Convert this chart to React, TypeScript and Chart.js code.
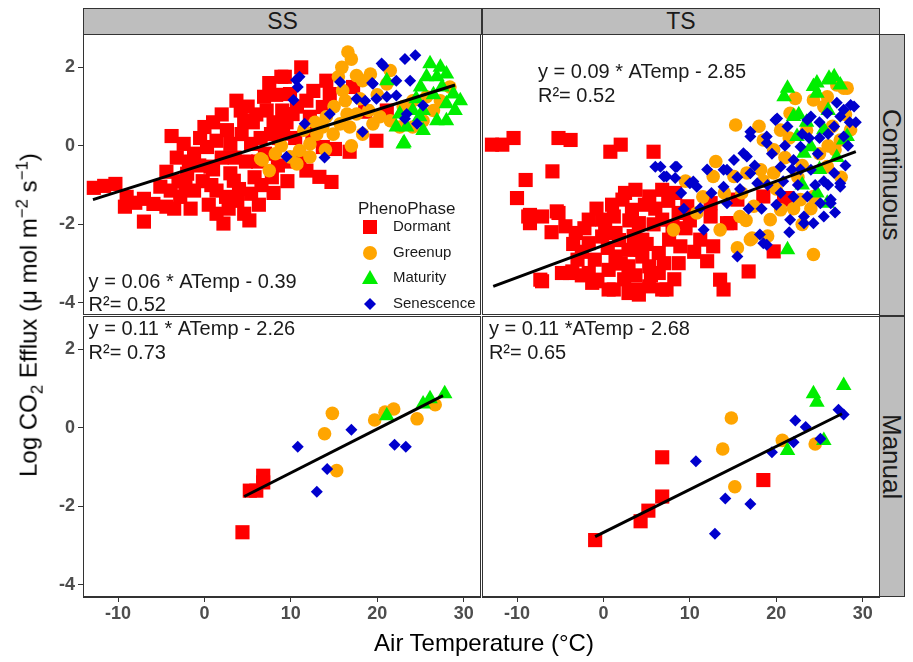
import React, { useEffect, useRef } from 'react';
import { Chart, registerables } from 'chart.js';

Chart.register(...registerables);

type P = [number, number];

const FONT = '"Liberation Sans", Arial, Helvetica, sans-serif';

// ---------- axes ----------
const xTicks = [-10, 0, 10, 20, 30];
const yTicks = [-4, -2, 0, 2];
const X_MIN = -14.05;
const X_MAX = 32.0;
const Y_MIN = -4.31;
const Y_MAX = 2.85;

// ---------- categories ----------
const phases = ['Dormant', 'Greenup', 'Maturity', 'Senescence'];
const phaseColors = ['#FF0000', '#FFA500', '#00EE00', '#0000CD'];
const sites = ['SS', 'TS'];
const methods = ['Continuous', 'Manual'];

// ---------- SS / Continuous ----------
const ssContDormant: P[] = [
  [-12.8, -1.07], [-11.6, -1.02], [-10.3, -0.97], [-9.2, -1.55], [-9.0, -1.3], [-8.0, -1.45], [-7.0, -1.93],
  [-7.0, -1.35], [-5.9, -1.48], [-5.1, -1.04], [-4.4, -0.66], [-4.4, -1.55], [-3.9, -1.14], [-3.8, 0.25],
  [-3.0, -0.9], [-2.4, 0.05], [-2.0, -0.71], [-1.6, -1.6], [-1.2, -0.2], [-1.2, -1.14], [-0.6, -0.5],
  [0.0, 0.48], [0.3, -0.03], [0.7, -0.53], [0.8, -1.0], [1.4, 0.13], [1.4, -1.14], [1.4, -1.73], [2.2, -1.98],
  [2.0, -0.3], [2.6, 0.4], [3.0, 0.05], [3.0, -0.7], [3.4, -0.89], [3.7, 1.15], [3.8, -1.4], [4.3, 0.3],
  [4.6, 0.64], [4.6, -1.73], [4.8, -0.4], [5.4, 0.05], [5.4, -1.22], [5.8, -0.8], [6.0, 0.8], [6.3, -1.5],
  [6.9, 1.25], [7.2, 0.9], [7.7, 0.3], [7.0, -0.2], [8.0, 0.6], [8.3, 1.3], [8.5, -0.5], [8.9, 1.76],
  [9.1, 0.31], [9.3, 1.76], [9.6, -0.9], [9.9, 1.32], [10.2, 0.81], [10.5, 0.2], [11.2, 2.0], [11.8, 1.15],
  [11.8, -0.63], [12.2, 0.74], [12.6, 1.4], [13.3, -0.79], [13.7, 0.99], [13.7, -0.03], [14.1, 1.66],
  [14.5, 1.32], [14.7, -0.92], [15.1, -0.08], [16.8, -0.15], [17.2, 1.5], [18.6, 0.87], [19.9, 0.13],
  [21.1, 0.9], [10.7, 1.0], [6.5, 0.2], [2.0, 0.8], [-0.5, 0.2], [1.0, -0.6], [-1.8, -0.4], [-3.2, -0.3],
  [5.0, 1.0], [11.0, -0.3], [12.5, 0.3], [7.5, 1.6], [9.0, 0.9], [4.0, -1.1], [-2.8, -1.3],
  [1.0, 0.6], [2.5, -1.3], [3.5, -0.3], [4.2, 0.9], [5.6, 0.6], [6.2, -0.4], [6.6, -1.0], [7.8, -0.8],
  [8.6, 0.2], [9.5, 0.6], [10.0, -0.4], [-0.2, -0.9], [0.5, -1.5], [2.8, -1.6], [-2.2, -1.0], [-3.5, -1.6],
  [5.2, -1.9], [8.0, -1.2],
];
const ssContGreenup: P[] = [
  [6.5, -0.33], [6.7, -0.36], [7.5, -0.63], [8.2, -0.2], [8.9, 0.0], [9.9, -0.28], [10.7, -0.46], [11.0, -0.12],
  [12.2, -0.28], [12.2, 0.05], [13.0, 0.3], [13.7, 0.48], [14.1, 0.74], [14.9, 0.3], [15.5, 1.76], [15.7, 0.56],
  [15.9, 2.0], [16.0, 1.41], [16.3, 1.15], [16.5, 0.81], [16.6, 2.39], [16.8, 0.48], [17.0, 2.21], [17.6, 1.79],
  [17.6, 0.81], [18.3, 1.66], [18.3, 0.3], [19.2, 1.83], [19.5, 0.56], [20.3, 0.74], [21.1, 1.58], [21.5, 1.92],
  [21.5, 0.64], [22.6, 0.48], [24.1, 1.15], [24.1, 0.48], [25.3, 0.64], [25.7, 1.25], [27.3, 1.15], [28.4, 1.5],
  [14.0, -0.1], [15.0, 1.0], [17.0, 0.0], [18.0, 1.2], [12.8, 0.6], [20.0, 1.3], [11.5, 0.4], [23.0, 1.0],
  [26.5, 0.9], [19.0, 0.9],
];
const ssContMaturity: P[] = [
  [21.1, 1.66], [22.2, 0.48], [22.6, 0.81], [23.0, 0.05], [23.1, 0.08], [23.4, 0.48], [24.1, 0.9], [24.9, 0.74],
  [25.3, 0.9], [25.3, 0.39], [25.7, 1.76], [26.1, 2.09], [26.9, 1.76], [26.9, 0.64], [27.3, 2.0], [28.0, 1.83],
  [28.0, 1.07], [28.0, 0.64], [28.8, 1.32], [29.6, 1.15], [26.5, 1.3], [27.5, 1.5], [24.5, 1.2], [29.0, 0.9],
  [25.0, 1.5],
];
const ssContSenescence: P[] = [
  [9.5, -0.28], [10.8, 1.5], [11.0, 1.76], [10.6, 1.68], [10.3, 1.17], [11.6, 0.56], [13.9, -0.3], [14.5, 0.81],
  [15.7, 1.63], [17.6, 1.2], [18.3, 0.36], [18.6, 1.15], [19.4, 1.6], [19.5, 1.58], [19.9, 1.2], [20.5, 2.1],
  [20.7, 2.04], [21.1, 1.25], [22.2, 1.66], [22.2, 1.28], [23.2, 2.21], [23.4, 0.81], [23.2, 0.69], [23.8, 1.66],
  [24.4, 2.31], [24.6, 0.56], [25.3, 1.03],
];
const ssContFit: P[] = [[-12.9, -1.37], [29.0, 1.55]];

// ---------- TS / Continuous ----------
const tsContDormant: P[] = [
  [-12.9, 0.03], [-11.7, 0.03], [-10.4, 0.2], [-5.2, 0.2], [-3.8, 0.15], [0.8, -0.15], [2.0, 0.03], [5.8, -0.15],
  [-9.0, -0.87], [-5.9, -0.65], [-10.0, -1.33], [-8.5, -1.76], [-7.1, -1.8], [-5.2, -1.71], [-8.5, -1.97],
  [-7.1, -3.45], [-4.8, -3.24], [-3.6, -3.2], [-1.7, -3.24], [-0.7, -3.45], [-4.4, -2.05], [-3.2, -2.22],
  [-1.7, -1.88], [-0.15, -1.88], [1.2, -1.8], [-1.7, -2.48], [-0.15, -2.31], [1.4, -2.22], [2.5, -1.2],
  [3.7, -1.12], [5.3, -1.29], [6.8, -1.12], [8.3, -1.2], [2.2, -1.37], [3.3, -1.63], [4.1, -1.97], [4.5, -2.39],
  [2.9, -2.65], [1.4, -2.82], [0.6, -3.16], [0.6, -3.66], [2.9, -3.75], [4.1, -3.79], [5.3, -3.58], [6.8, -3.66],
  [6.4, -3.24], [5.3, -3.07], [2.9, -3.07], [-1.3, -3.49], [4.5, -2.82], [6.4, -2.73], [7.6, -2.39], [8.0, -2.05],
  [6.8, -1.88], [8.7, -1.71], [8.7, -2.99], [18.5, -1.29], [20.9, -1.37], [19.7, -2.69], [16.8, -3.2],
  [13.5, -3.41], [13.9, -3.66], [12.0, -2.94], [12.7, -2.56], [14.3, -1.97], [15.5, -1.37], [12.4, -1.46],
  [9.7, -1.54], [12.4, -1.8], [14.7, -1.97], [21.3, -1.33], [11.2, -2.39], [-2.5, -2.7], [-3.0, -2.9],
  [-1.0, -2.9], [0.5, -2.6], [1.8, -2.4], [3.5, -2.3], [2.0, -3.0], [3.7, -3.3], [5.0, -2.5], [5.8, -2.0],
  [7.0, -2.99], [8.9, -2.56], [4.3, -2.65], [7.3, -3.66], [3.9, -3.66], [1.2, -3.66], [-0.8, -3.41],
  [-3.9, -3.24], [-5.4, -1.67], [-8.7, -1.8], [3.0, -1.9], [1.0, -1.5], [-0.8, -1.6], [0.2, -2.1], [6.0, -1.6],
  [7.5, -1.4], [4.8, -1.5], [9.5, -2.1], [10.5, -2.7], [10.0, -1.9], [-2.2, -2.1], [-3.5, -2.5], [-6.0, -2.2],
  [8.2, -3.4], [5.5, -3.3], [2.4, -3.4], [-2.5, -3.3], [-7.3, -3.41],
];
const tsContGreenup: P[] = [
  [15.3, 0.53], [28.2, 1.47], [27.0, 1.55], [25.9, 1.25], [24.3, 1.17], [22.2, 1.21], [21.6, 0.83], [28.6, 0.41],
  [27.4, 0.15], [18.5, 0.15], [19.7, -0.1], [12.7, -0.78], [15.1, -0.78], [16.6, -0.69], [18.2, -0.61],
  [19.7, -0.69], [25.9, -0.53], [24.3, -1.29], [22.8, -1.37], [20.5, -1.63], [17.4, -1.54], [19.3, -1.88],
  [15.8, -1.8], [13.5, -2.14], [17.0, -2.39], [24.3, -2.77], [17.2, -2.35], [15.5, -2.6], [8.1, -2.14],
  [10.8, -1.71], [27.8, 1.47], [23.5, 0.4], [26.0, 0.0], [21.0, -0.3], [14.0, -1.2], [16.0, -1.2], [11.5, -1.3],
  [20.0, -1.1], [22.5, -0.8], [25.0, -0.2], [28.0, 0.8], [23.0, -2.0], [19.0, -2.3], [26.5, 0.5], [13.0, -0.4],
  [9.5, -0.9], [18.0, 0.5], [21.5, 0.2], [23.0, -0.5], [26.8, -0.1], [27.5, -0.8], [24.0, -1.6], [20.5, 0.4],
  [18.5, -0.9], [16.5, -1.9], [22.0, -1.6], [25.5, 1.0],
];
const tsContMaturity: P[] = [
  [20.9, 1.25], [21.3, 1.47], [24.3, 1.51], [24.7, 1.6], [26.1, 1.68], [26.1, 1.72], [26.7, 1.76], [27.4, 1.55],
  [24.7, 1.34], [22.0, 0.75], [22.6, 0.79], [22.4, 0.24], [24.0, -0.02], [23.2, -0.19], [25.5, 0.41],
  [28.2, 0.24], [27.8, 0.15], [24.7, -1.2], [25.9, -1.46], [21.3, -2.65], [23.5, 0.6], [26.0, 0.9], [25.0, -0.6],
  [27.0, -0.3], [23.0, -1.0],
];
const tsContSenescence: P[] = [
  [6.0, -0.53], [7.0, -0.78], [8.3, -0.53], [8.3, -0.82], [6.6, -0.53], [7.3, -0.78], [8.5, -0.53], [10.0, -0.95],
  [10.4, -0.91], [10.8, -1.04], [11.2, -1.59], [11.6, -2.14], [13.9, -0.61], [13.9, -1.04], [14.3, -0.61],
  [14.3, -1.46], [15.1, -0.36], [15.5, -2.82], [16.2, -0.19], [16.6, -0.27], [17.0, 0.36], [17.0, 0.24],
  [17.8, -0.95], [18.1, -2.26], [18.5, -2.48], [18.9, 0.24], [18.9, 0.07], [18.9, -2.52], [19.9, 0.66],
  [20.1, 0.7], [20.5, -0.53], [20.5, -1.2], [21.3, 0.49], [21.6, -1.88], [22.0, -0.36], [22.8, -0.02],
  [23.2, -1.8], [23.2, -1.97], [23.6, 0.66], [23.6, -1.29], [24.0, 0.75], [24.0, -0.61], [24.3, -1.97],
  [25.1, -1.46], [25.9, 0.83], [26.3, -1.37], [26.3, -1.46], [26.7, 0.49], [26.7, -0.69], [27.4, 0.75],
  [27.4, -0.95], [27.4, -1.04], [27.8, 0.92], [27.8, 0.24], [28.6, 1.04], [29.0, 1.0], [21.0, 0.0], [22.5, -1.0],
  [25.0, 0.2], [19.5, -0.2], [24.8, -0.2], [26.0, -1.0], [20.0, -1.5], [12.5, -1.2], [9.0, -1.2], [15.8, -1.1],
  [28.5, 0.6], [23.0, 0.3], [25.5, -0.9], [17.5, -0.5], [21.8, -0.6], [12.0, -0.6], [9.3, -1.6], [16.8, -1.6],
  [20.8, -0.9], [22.0, -1.3], [24.5, -1.0], [25.5, -1.8], [26.8, -1.7], [28.0, -0.5], [28.3, 0.0], [29.2, 0.6],
  [27.0, 1.1], [25.0, 0.6], [22.8, -0.6], [19.0, -1.0], [17.0, -0.7], [15.5, -0.8], [18.3, -1.6], [21.5, -2.2],
  [26.0, 0.3], [23.8, 0.2],
];
const tsContFit: P[] = [[-12.75, -3.58], [29.2, -0.145]];

// ---------- SS / Manual ----------
const ssManDormant: P[] = [[4.4, -2.66], [5.25, -1.6], [6.0, -1.6], [6.8, -1.22], [6.8, -1.39]];
const ssManGreenup: P[] = [
  [14.8, 0.37], [13.9, -0.15], [15.3, -1.09], [19.7, 0.2], [20.9, 0.4], [21.9, 0.48], [24.6, 0.23], [26.7, 0.59],
];
const ssManMaturity: P[] = [[21.1, 0.31], [25.3, 0.61], [26.1, 0.74], [27.8, 0.87]];
const ssManSenescence: P[] = [[10.8, -0.48], [13.0, -1.63], [14.2, -1.05], [17.0, -0.05], [22.0, -0.43], [23.3, -0.48]];
const ssManFit: P[] = [[4.6, -1.75], [27.6, 0.82]];

// ---------- TS / Manual ----------
const tsManDormant: P[] = [[-0.96, -2.86], [4.3, -2.38], [5.2, -2.11], [6.8, -1.75], [6.8, -0.75], [18.5, -1.33]];
const tsManGreenup: P[] = [[14.8, 0.25], [13.8, -0.54], [15.2, -1.5], [20.7, -0.32], [24.5, -0.41]];
const tsManMaturity: P[] = [[24.3, 0.87], [24.7, 0.65], [27.8, 1.08], [21.3, -0.58], [25.5, -0.32]];
const tsManSenescence: P[] = [
  [10.7, -0.85], [12.9, -2.7], [14.1, -1.8], [17.0, -1.94], [19.5, -0.62], [22.0, -0.37], [22.2, 0.19],
  [23.4, 0.02], [25.1, -0.28], [27.2, 0.46], [27.8, 0.34],
];
const tsManFit: P[] = [[-0.96, -2.77], [27.6, 0.36]];

// ---------- equation labels ----------
const eqLabels = [
  ['y = 0.06 * ATemp - 0.39', 'R\u00B2= 0.52'],
  ['y = 0.09 * ATemp - 2.85', 'R\u00B2= 0.52'],
  ['y = 0.11 * ATemp - 2.26', 'R\u00B2= 0.73'],
  ['y = 0.11 *ATemp - 2.68', 'R\u00B2= 0.65'],
];
const eqX = [-13.4, -7.57, -13.4, -13.25];
const eqY: P[] = [[-3.49, -4.07], [1.88, 1.27], [2.51, 1.9], [2.51, 1.9]];

// ---------- layout ----------
const PANEL_W = 398;
const PANEL_H = 281;
const colLeft = [83, 482];
const rowTop = [34, 316];
const YW = 50;
const XH = 40;

type PanelCfg = {
  key: string;
  col: number;
  row: number;
  series: P[][];
  fit: P[];
  eq: number;
  legend: boolean;
};

const panels: PanelCfg[] = [
  { key: 'ssc', col: 0, row: 0, series: [ssContDormant, ssContGreenup, ssContMaturity, ssContSenescence], fit: ssContFit, eq: 0, legend: true },
  { key: 'tsc', col: 1, row: 0, series: [tsContDormant, tsContGreenup, tsContMaturity, tsContSenescence], fit: tsContFit, eq: 1, legend: false },
  { key: 'ssm', col: 0, row: 1, series: [ssManDormant, ssManGreenup, ssManMaturity, ssManSenescence], fit: ssManFit, eq: 2, legend: false },
  { key: 'tsm', col: 1, row: 1, series: [tsManDormant, tsManGreenup, tsManMaturity, tsManSenescence], fit: tsManFit, eq: 3, legend: false },
];

const pointStyles = ['rect', 'circle', 'triangle', 'rectRot'];
const pointRadii = [10, 6.8, 9, 6];

function drawMarker(ctx: CanvasRenderingContext2D, i: number, cx: number, cy: number) {
  ctx.fillStyle = phaseColors[i];
  ctx.beginPath();
  if (i === 0) {
    ctx.rect(cx - 7, cy - 7, 14, 14);
  } else if (i === 1) {
    ctx.arc(cx, cy, 7, 0, Math.PI * 2);
  } else if (i === 2) {
    ctx.moveTo(cx, cy - 8);
    ctx.lineTo(cx + 8, cy + 6);
    ctx.lineTo(cx - 8, cy + 6);
    ctx.closePath();
  } else {
    ctx.moveTo(cx, cy - 6);
    ctx.lineTo(cx + 6, cy);
    ctx.lineTo(cx, cy + 6);
    ctx.lineTo(cx - 6, cy);
    ctx.closePath();
  }
  ctx.fill();
}

function Panel({ cfg }: { cfg: PanelCfg }) {
  const ref = useRef<HTMLCanvasElement>(null);
  const showY = cfg.col === 0;
  const showX = cfg.row === 1;
  const padL = showY ? YW : 0;
  const padB = showX ? XH : 0;
  const width = PANEL_W + padL;
  const height = PANEL_H + padB;

  useEffect(() => {
    if (!ref.current) return;
    const overlay = {
      id: 'overlay_' + cfg.key,
      afterDraw(chart: any) {
        const { ctx, chartArea: a, scales } = chart;
        ctx.save();
        ctx.strokeStyle = '#333333';
        ctx.lineWidth = 1;
        ctx.strokeRect(a.left + 0.5, a.top + 0.5, a.right - a.left - 1, a.bottom - a.top - 1);
        ctx.fillStyle = '#1A1A1A';
        ctx.font = `20px ${FONT}`;
        ctx.textBaseline = 'middle';
        ctx.textAlign = 'left';
        const tx = scales.x.getPixelForValue(eqX[cfg.eq]);
        ctx.fillText(eqLabels[cfg.eq][0], tx, scales.y.getPixelForValue(eqY[cfg.eq][0]));
        ctx.fillText(eqLabels[cfg.eq][1], tx, scales.y.getPixelForValue(eqY[cfg.eq][1]));
        if (cfg.legend) {
          ctx.fillStyle = '#1A1A1A';
          ctx.font = `17px ${FONT}`;
          ctx.fillText('PhenoPhase', a.left + 275, a.top + 175);
          const keyY = [193, 219, 244, 270];
          phases.forEach((ph, i) => {
            drawMarker(ctx, i, a.left + 287, a.top + keyY[i]);
            ctx.fillStyle = '#1A1A1A';
            ctx.font = `15px ${FONT}`;
            ctx.fillText(ph, a.left + 310, a.top + keyY[i]);
          });
        }
        ctx.restore();
      },
    };

    const datasets: any[] = cfg.series.map((pts, i) => ({
      label: phases[i],
      data: pts.map(([x, y]) => ({ x, y })),
      pointStyle: pointStyles[i],
      pointRadius: pointRadii[i],
      pointBackgroundColor: phaseColors[i],
      pointBorderWidth: 0,
      pointBorderColor: phaseColors[i],
      showLine: false,
      order: 4 - i,
      clip: 0,
    }));
    datasets.push({
      label: 'fit',
      data: cfg.fit.map(([x, y]) => ({ x, y })),
      showLine: true,
      borderColor: '#000000',
      borderWidth: 3,
      pointRadius: 0,
      order: 0,
      clip: 0,
    });

    const tickFont = { family: FONT, size: 18, weight: 'bold' as const };

    const xScale: any = {
      type: 'linear',
      min: X_MIN,
      max: X_MAX,
      display: showX,
      afterBuildTicks: (s: any) => { s.ticks = xTicks.map((v) => ({ value: v })); },
      grid: { drawOnChartArea: false, drawTicks: true, tickLength: 5, color: '#333333', lineWidth: 1 },
      border: { display: true, color: '#333333', width: 1 },
      ticks: { autoSkip: false, maxRotation: 0, padding: 1, color: '#4D4D4D', font: tickFont },
    };
    if (showX) {
      xScale.afterFit = (s: any) => {
        s.height = XH;
        s.paddingLeft = 0;
        s.paddingRight = 0;
        s.paddingTop = 0;
        s.paddingBottom = 0;
      };
    }
    const yScale: any = {
      type: 'linear',
      min: Y_MIN,
      max: Y_MAX,
      display: showY,
      afterBuildTicks: (s: any) => { s.ticks = yTicks.map((v) => ({ value: v })); },
      grid: { drawOnChartArea: false, drawTicks: true, tickLength: 5, color: '#333333', lineWidth: 1 },
      border: { display: true, color: '#333333', width: 1 },
      ticks: { autoSkip: false, padding: 3, color: '#4D4D4D', font: tickFont },
    };
    if (showY) {
      yScale.afterFit = (s: any) => {
        s.width = YW;
        s.paddingTop = 0;
        s.paddingBottom = 0;
        s.paddingLeft = 0;
        s.paddingRight = 0;
      };
    }

    const chart = new Chart(ref.current, {
      type: 'scatter',
      data: { datasets },
      options: {
        responsive: false,
        animation: false,
        events: [],
        layout: { padding: 0, autoPadding: false },
        plugins: { legend: { display: false }, tooltip: { enabled: false } },
        scales: { x: xScale, y: yScale },
      } as any,
      plugins: [overlay],
    });
    return () => chart.destroy();
  }, []);

  return (
    <canvas
      ref={ref}
      width={width}
      height={height}
      style={{ position: 'absolute', left: colLeft[cfg.col] - padL, top: rowTop[cfg.row], width, height }}
    />
  );
}

const stripStyle: React.CSSProperties = {
  position: 'absolute',
  boxSizing: 'border-box',
  background: '#BEBEBE',
  border: '1px solid #333333',
  color: '#1A1A1A',
  fontFamily: FONT,
  fontSize: 23,
  display: 'flex',
  alignItems: 'center',
  justifyContent: 'center',
  overflow: 'hidden',
};

export default function App() {
  return (
    <div style={{ position: 'absolute', left: 0, top: 0, width: 913, height: 662, background: '#FFFFFF', fontFamily: FONT }}>
      {panels.map((p) => (
        <Panel key={p.key} cfg={p} />
      ))}
      {sites.map((s, i) => (
        <div key={s} style={{ ...stripStyle, left: colLeft[i], top: 8, width: i === 0 ? 399 : 398, height: 27 }}>{s}</div>
      ))}
      {methods.map((m, i) => (
        <div key={m} style={{ ...stripStyle, fontSize: 26, left: 879, top: rowTop[i], width: 26, height: i === 0 ? 282 : 281 }}>
          <span style={{ writingMode: 'vertical-rl', lineHeight: 1 }}>{m}</span>
        </div>
      ))}
      <div
        style={{
          position: 'absolute',
          left: 30,
          top: 315,
          transform: 'translate(-50%, -50%) rotate(-90deg)',
          whiteSpace: 'nowrap',
          fontSize: 24,
          color: '#000000',
          fontFamily: FONT,
        }}
      >
        Log CO<sub style={{ fontSize: '0.7em' }}>2</sub> Efflux (μ mol m<sup style={{ fontSize: '0.7em' }}>−2</sup> s<sup style={{ fontSize: '0.7em' }}>−1</sup>)
      </div>
      <div
        style={{
          position: 'absolute',
          left: 484,
          top: 643,
          transform: 'translate(-50%, -50%)',
          whiteSpace: 'nowrap',
          fontSize: 24,
          color: '#000000',
          fontFamily: FONT,
        }}
      >
        Air Temperature (°C)
      </div>
    </div>
  );
}
